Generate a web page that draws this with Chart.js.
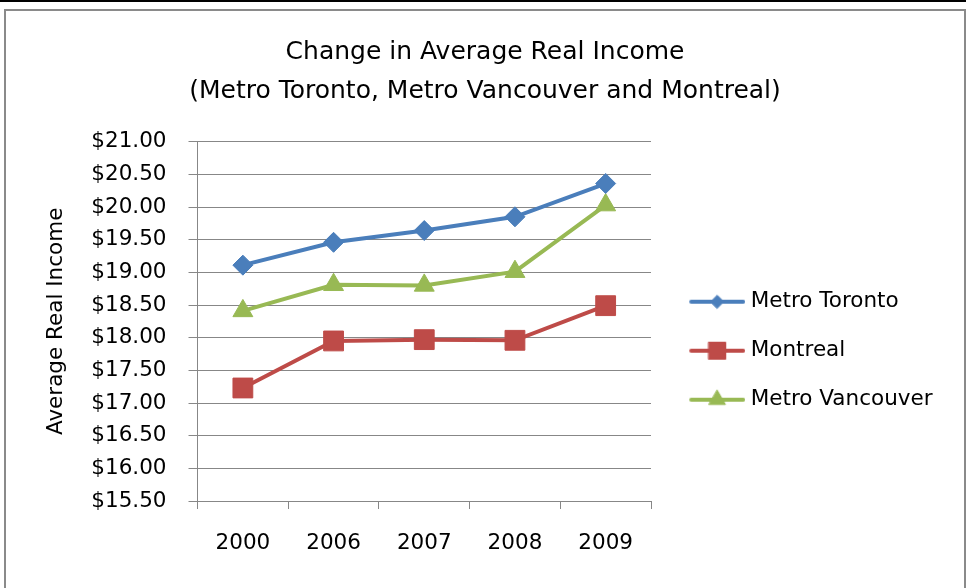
<!DOCTYPE html>
<html>
<head>
<meta charset="utf-8">
<script src="https://cdn.jsdelivr.net/npm/chart.js@4"></script>
<style>
  html, body { margin: 0; padding: 0; background: #fff; }
</style>
</head>
<body>
<canvas id="incomeChart" width="966" height="588"></canvas>
<script>
// Data
const years = ['2000', '2006', '2007', '2008', '2009'];
const toronto = [19.11, 19.46, 19.64, 19.85, 20.36];
const montreal = [17.23, 17.95, 17.97, 17.96, 18.49];
const vancouver = [18.41, 18.81, 18.80, 19.01, 20.03];
const seriesNames = ['Metro Toronto', 'Montreal', 'Metro Vancouver'];
const yMin = 15.5, yMax = 21, yStep = 0.5;

Chart.defaults.font.family = '"DejaVu Sans", sans-serif';
Chart.defaults.color = '#000';

const gridGray = '#878787';
const legendWidth = 295.5;

// small canvas used as legend symbol: line with marker in the middle
function legendIcon(color, style, radius) {
  const c = document.createElement('canvas');
  c.width = 72; c.height = 24;
  const ctx = c.getContext('2d');
  ctx.strokeStyle = color;
  ctx.lineWidth = 4;
  ctx.lineCap = 'round';
  ctx.beginPath();
  ctx.moveTo(18, 12);
  ctx.lineTo(70, 12);
  ctx.stroke();
  ctx.fillStyle = color;
  ctx.lineWidth = 1;
  Chart.helpers.drawPoint(ctx, { pointStyle: style, radius: radius, borderWidth: 1, rotation: 0 }, 44, 12);
  return c;
}

// white background, dark top strip and grey frame
const framePlugin = {
  id: 'frame',
  beforeDraw(chart) {
    const { ctx, width, height } = chart;
    ctx.save();
    ctx.fillStyle = '#fff';
    ctx.fillRect(0, 0, width, height);
    ctx.fillStyle = '#000';
    ctx.fillRect(0, 0, width, 2);
    ctx.strokeStyle = '#8a8a8a';
    ctx.lineWidth = 2;
    ctx.strokeRect(5, 10, 960, 600);
    ctx.restore();
  }
};

// legend on the right is capped at a quarter of the width by the layout; give it the room it needs
const legendWidthPlugin = {
  id: 'legendWidth',
  beforeLayout(chart) {
    const lg = chart.legend;
    if (lg && !lg._widthPatched) {
      const fit = lg.fit.bind(lg);
      lg.fit = function () { fit(); this.width = legendWidth; };
      lg._widthPatched = true;
    }
  }
};

const seriesStyle = [
  { color: '#4a7ebb', style: 'rectRot', radius: 10, legendRadius: 6.5 },
  { color: '#be4b48', style: 'rect', radius: 14, legendRadius: 12 },
  { color: '#98b954', style: 'triangle', radius: 11.5, legendRadius: 9.5 }
];
const seriesData = [toronto, montreal, vancouver];

const datasets = seriesData.map((values, i) => ({
  label: seriesNames[i],
  data: values,
  borderColor: seriesStyle[i].color,
  backgroundColor: seriesStyle[i].color,
  borderWidth: 4,
  pointStyle: seriesStyle[i].style,
  pointRadius: seriesStyle[i].radius,
  pointBorderWidth: 1,
  tension: 0
}));

new Chart(document.getElementById('incomeChart'), {
  type: 'line',
  data: { labels: years, datasets: datasets },
  options: {
    responsive: false,
    animation: false,
    layout: { padding: { left: 23.5, right: 19.5, top: 0, bottom: 9.2 } },
    plugins: {
      tooltip: { enabled: false },
      title: {
        display: true,
        text: ['Change in Average Real Income', '(Metro Toronto, Metro Vancouver and Montreal)'],
        font: { size: 25, weight: 'normal', lineHeight: 1.56 },
        color: '#000',
        padding: { top: 32.5, bottom: 31.2 }
      },
      legend: {
        position: 'right',
        align: 'start',
        // empty title used only as a spacer above the entries
        title: { display: true, text: ' ', font: { size: 10, lineHeight: 1.2 }, padding: { top: 251.5, bottom: 0 } },
        labels: {
          usePointStyle: true,
          pointStyleWidth: 61.5,
          padding: 27.5,
          font: { size: 21.5 },
          color: '#000',
          generateLabels(chart) {
            return chart.data.datasets.map((ds, i) => ({
              text: ds.label,
              pointStyle: legendIcon(seriesStyle[i].color, seriesStyle[i].style, seriesStyle[i].legendRadius),
              fillStyle: ds.borderColor,
              strokeStyle: ds.borderColor,
              fontColor: '#000',
              lineWidth: 0,
              hidden: false,
              datasetIndex: i
            }));
          }
        }
      }
    },
    scales: {
      x: {
        offset: true,
        grid: { display: true, offset: true, drawOnChartArea: false, drawTicks: true, tickLength: 8, color: gridGray },
        border: { color: gridGray, width: 1 },
        ticks: { font: { size: 21.5 }, color: '#000', padding: 22, maxRotation: 0 }
      },
      y: {
        min: yMin,
        max: yMax,
        grid: { color: gridGray, lineWidth: 1, tickLength: 9 },
        border: { color: gridGray, width: 1 },
        ticks: {
          stepSize: yStep,
          font: { size: 21.5 },
          color: '#000',
          padding: 22,
          callback: v => '$' + Number(v).toFixed(2)
        },
        title: {
          display: true,
          text: 'Average Real Income',
          font: { size: 21.5 },
          color: '#000',
          padding: { top: 20, bottom: 0 }
        }
      }
    }
  },
  plugins: [framePlugin, legendWidthPlugin]
});
</script>
</body>
</html>
